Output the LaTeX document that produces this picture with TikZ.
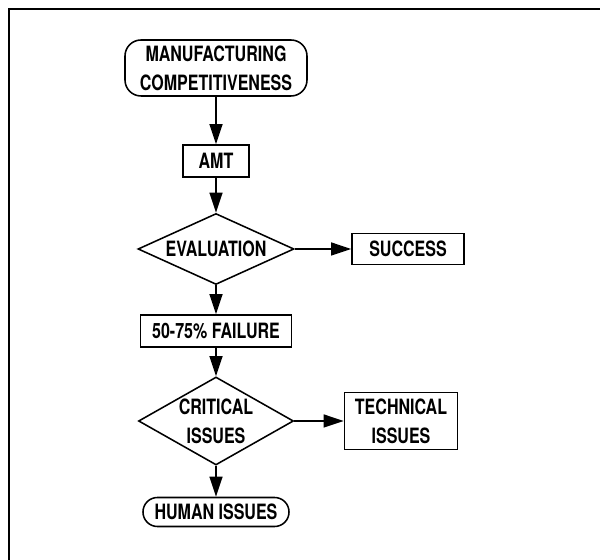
\documentclass[tikz,border=0pt]{standalone}
\usepackage{fontspec}
\newfontfamily\flowfont{TeX Gyre Heros}[FakeStretch=0.76]
\usetikzlibrary{shapes.geometric,arrows.meta,positioning}

\begin{document}
\begin{tikzpicture}[
    every node/.style={font=\flowfont\bfseries\fontsize{15}{20.5}\selectfont, align=center, inner sep=0pt},
    box/.style={draw, line width=1.1pt, rectangle},
    endbox/.style={draw, line width=1.1pt, rectangle, rounded corners=0.36cm},
    decision/.style={draw, line width=1.1pt, diamond},
    flow/.style={line width=1.4pt, -{Triangle[length=0.5cm, width=0.32cm]}}
  ]
  \useasboundingbox (0,0) rectangle (15,14);

  % Frame
  \draw[line width=2pt] (0.225,0) -- (0.225,13.775) -- (15,13.775);

  % Main column
  \node[endbox, rounded corners=0.4cm, minimum width=4.55cm, minimum height=1.4cm] (comp) at (5.4,12.3) {MANUFACTURING\\COMPETITIVENESS};
  \node[box, minimum width=1.65cm, minimum height=0.8cm] (amt) at (5.4,9.975) {AMT};
  \node[decision, aspect=2.2, minimum width=3.9cm, minimum height=1.775cm] (eval) at (5.4,7.775) {EVALUATION};
  \node[box, minimum width=3.775cm, minimum height=0.8cm] (fail) at (5.4,5.725) {50-75\% FAILURE};
  \node[decision, aspect=1.76, minimum width=3.875cm, minimum height=2.2cm] (crit) at (5.4,3.475) {CRITICAL\\ISSUES};
  \node[endbox, minimum width=3.65cm, minimum height=0.725cm] (human) at (5.4,1.2) {HUMAN ISSUES};

  % Side outcomes
  \node[box, minimum width=2.8cm, minimum height=0.775cm] (succ) at (10.2,7.775) {SUCCESS};
  \node[box, minimum width=2.825cm, minimum height=1.425cm] (tech) at (10.025,3.475) {TECHNICAL\\ISSUES};

  % Connectors
  \draw[flow] (comp) -- (amt);
  \draw[flow] (amt) -- (eval);
  \draw[flow] (eval) -- (fail);
  \draw[flow] (fail) -- (crit);
  \draw[flow] (crit) -- (human);
  \draw[flow] (eval) -- (succ);
  \draw[flow] (crit) -- (tech);
\end{tikzpicture}
\end{document}
